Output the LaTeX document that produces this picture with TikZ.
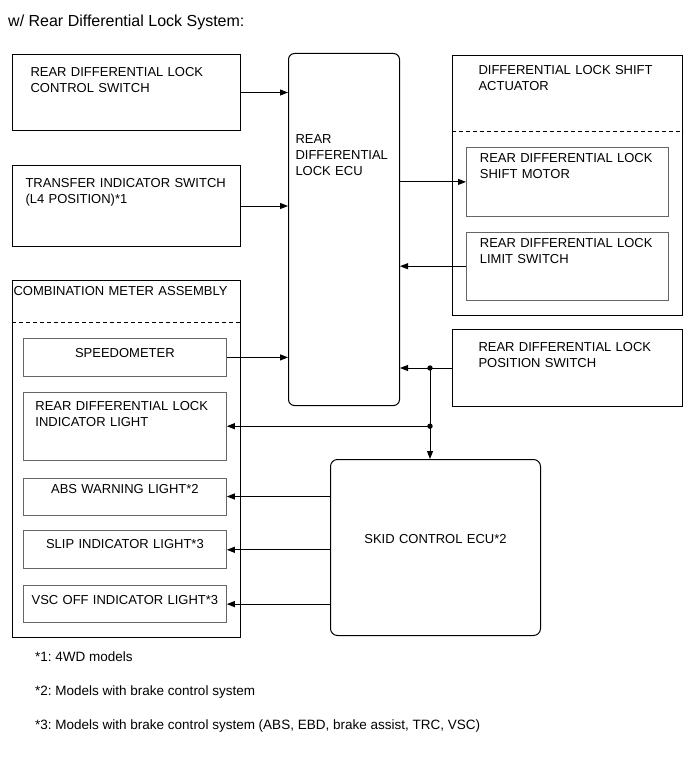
\documentclass[tikz,border=0pt]{standalone}
\usepackage{fontspec}
\setmainfont{Liberation Sans}
\frenchspacing
\usetikzlibrary{positioning,arrows.meta,calc}
\tikzset{
  blk/.style={draw, line width=1pt, anchor=north west, inner ysep=0pt, align=left, font=\fontsize{13}{16}\selectfont},
  sub/.style={blk, draw=black!60, line width=0.8pt},
  rbox/.style={blk, rounded corners=6pt},
  dsh/.style={line width=0.8pt, dash pattern=on 4pt off 3pt},
  fl/.style={-{Triangle[length=8pt,width=6pt]}, line width=1pt},
  txt/.style={anchor=base west, inner sep=0pt, font=\fontsize{13.5}{16}\selectfont},
}
\begin{document}
\begin{tikzpicture}[x=1pt, y=-1pt]
\useasboundingbox (0,0) rectangle (690,757);
\node[txt, font=\fontsize{16}{19}\selectfont] (title) at (8,26.5) {w/ Rear Differential Lock System:};
\node[blk, inner xsep=18pt, text width=192pt, text height=22pt, text depth=54pt] (ctrl) at (12,54) {REAR DIFFERENTIAL LOCK\\CONTROL SWITCH};
\node[blk, inner xsep=13pt, text width=202pt, text height=21.5pt, text depth=59.5pt, below=34pt of ctrl] (trans) {TRANSFER INDICATOR SWITCH\\(L4 POSITION)*1};
\node[rbox, inner xsep=7pt, text width=97pt, text height=90pt, text depth=262pt] (ecu) at (288,53) {REAR\\DIFFERENTIAL\\LOCK ECU};
\node[blk, inner xsep=26pt, text width=178pt, text height=19.5pt, text depth=240.5pt] (act) at (452,55) {DIFFERENTIAL LOCK SHIFT\\ACTUATOR};
\node[sub, inner xsep=13.5pt, text width=175pt, text height=15pt, text depth=54pt] (motor) at (466,147) {REAR DIFFERENTIAL LOCK\\SHIFT MOTOR};
\node[sub, inner xsep=13.5pt, text width=175pt, text height=15pt, text depth=53pt, below=15pt of motor] (limit) {REAR DIFFERENTIAL LOCK\\LIMIT SWITCH};
\node[blk, inner xsep=26pt, text width=178pt, text height=21.5pt, text depth=55.5pt, below=13pt of act] (pos) {REAR DIFFERENTIAL LOCK\\POSITION SWITCH};
\node[blk, inner xsep=1pt, text width=226pt, text height=14.5pt, text depth=342.5pt] (meter) at (12,280) {COMBINATION METER ASSEMBLY};
\node[sub, align=center, inner xsep=0pt, text width=203pt, text height=19pt, text depth=19pt] (speedo) at (23,338) {SPEEDOMETER};
\node[sub, inner xsep=12pt, text width=179pt, text height=18pt, text depth=50pt, below=15pt of speedo] (rind) {REAR DIFFERENTIAL LOCK\\INDICATOR LIGHT};
\node[sub, align=center, inner xsep=0pt, text width=203pt, text height=15pt, text depth=22pt, below=17pt of rind] (abs) {ABS WARNING LIGHT*2};
\node[sub, align=center, inner xsep=0pt, text width=203pt, text height=18pt, text depth=20pt, below=15pt of abs] (slip) {SLIP INDICATOR LIGHT*3};
\node[sub, align=center, inner xsep=0pt, text width=203pt, text height=18.5pt, text depth=18.5pt, below=16pt of slip] (vsc) {VSC OFF INDICATOR LIGHT*3};
\node[rbox, rounded corners=7pt, align=center, inner xsep=0pt, text width=210pt, text height=84pt, text depth=92pt] (skid) at (330,459) {SKID CONTROL ECU*2};
\node[txt] (n1) at (35,661) {*1: 4WD models};
\node[txt] (n2) at (35,695.5) {*2: Models with brake control system};
\node[txt] (n3) at (35,729) {*3: Models with brake control system (ABS, EBD, brake assist, TRC, VSC)};
\draw[dsh] ($(act.north west)+(0,76)$) -- ($(act.north east)+(0,76)$);
\draw[dsh] ($(meter.north west)+(0,42)$) -- ($(meter.north east)+(0,42)$);
\draw[fl] (ctrl.east) -- (ctrl.east -| ecu.west);
\draw[fl] (trans.east) -- (trans.east -| ecu.west);
\draw[fl] (speedo.east) -- (speedo.east -| ecu.west);
\draw[fl] (motor.west -| ecu.east) -- (motor.west);
\draw[fl] (limit.west) -- (limit.west -| ecu.east);
\path (pos.west) -- ++(-22,0) coordinate (j1);
\coordinate (j2) at (j1 |- rind.east);
\draw[fl] (pos.west) -- (pos.west -| ecu.east);
\draw[fl] (j1) -- (j1 |- skid.north);
\draw[fl] (j2) -- (rind.east);
\fill (j1) circle (2.7pt) (j2) circle (2.7pt);
\foreach \n in {abs,slip,vsc}
  \draw[fl] (\n.east -| skid.west) -- (\n.east);
\end{tikzpicture}
\end{document}
